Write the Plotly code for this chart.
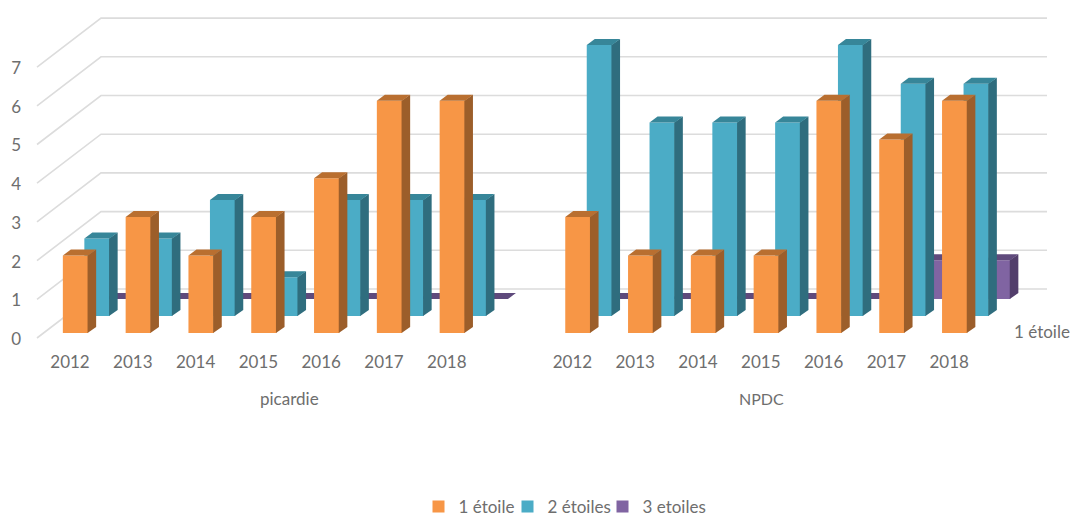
import plotly.graph_objects as go

years = ["2012", "2013", "2014", "2015", "2016", "2017", "2018"]
groups = ["picardie", "NPDC"]
picardie_1 = [2, 3, 2, 3, 4, 6, 6]
picardie_2 = [2, 2, 3, 1, 3, 3, 3]
picardie_3 = [0, 0, 0, 0, 0, 0, 0]
npdc_1 = [3, 2, 2, 2, 6, 5, 6]
npdc_2 = [7, 5, 5, 5, 7, 6, 6]
npdc_3 = [0, 0, 0, 0, 0, 1, 1]
names = ["1 étoile", "2 étoiles", "3 etoiles"]
ticks = [0, 1, 2, 3, 4, 5, 6, 7]

W, H, ML = 1071, 516, 22
STEP, UNIT = 62.8, 38.7     # px per category / per value
X0 = 75.5                   # centre of the first front bar
BAR = 25.3 / STEP
DX, DV = 8 / STEP, 6 / UNIT  # bar depth
SEAM = 0.6 / STEP           # side faces tuck slightly behind the front face
GREY = "#6E6E6E"
FONT = "Lato"

positions = list(range(7)) + [i + 8 for i in range(7)]
labels = years + years


def xrange(shift):
    c = X0 + shift
    return [(ML - c) / STEP, (W - c) / STEP]


def yrange(base):
    return [(base - H) / UNIT, base / UNIT]


series = [
    dict(name=names[2], vals=picardie_3 + npdc_3, dx=43, base=299, legend="legend3", lx=602.5,
         front="#8064A2", side="#523E6B", top="#5F4A7C", ax="3"),
    dict(name=names[1], vals=picardie_2 + npdc_2, dx=21.5, base=316, legend="legend2", lx=507.5,
         front="#4BACC6", side="#2F6D7E", top="#378699", ax="4"),
    dict(name=names[0], vals=picardie_1 + npdc_1, dx=0, base=333, legend="legend", lx=418.5,
         front="#F79646", side="#9C5E2A", top="#B96F30", ax="5"),
]

fig = go.Figure()

# wall gridlines: front edge -> back edge -> right end
gx, gy = [], []
front_left = (37 - X0) / STEP
back_left = (101 - X0) / STEP
back_right = (1047 - X0) / STEP
for v in ticks:
    gx += [front_left, back_left, back_right, None]
    gy += [v + 1 / UNIT, v + 50 / UNIT, v + 50 / UNIT, None]
fig.add_trace(go.Scatter(x=gx, y=gy, mode="lines", showlegend=False, hoverinfo="skip",
                         line=dict(color="#DCDCDC", width=1.6), xaxis="x", yaxis="y"))

for s in series:
    xa, ya = "x" + s["ax"], "y" + s["ax"]
    sx, sy, tx, ty = [], [], [], []
    for p, v in zip(positions, s["vals"]):
        l, r = p - BAR / 2, p + BAR / 2
        sx += [r - SEAM, r + DX, r + DX, r - SEAM, r - SEAM, None]
        sy += [0, DV, v + DV, v, 0, None]
        tx += [l, r, r + DX, l + DX, l, None]
        ty += [v, v, v + DV, v + DV, v, None]
    fig.add_trace(go.Scatter(x=sx, y=sy, mode="lines", fill="toself", fillcolor=s["side"],
                             line=dict(width=0), showlegend=False, hoverinfo="skip",
                             xaxis=xa, yaxis=ya))
    fig.add_trace(go.Scatter(x=tx, y=ty, mode="lines", fill="toself", fillcolor=s["top"],
                             line=dict(width=0), showlegend=False, hoverinfo="skip",
                             xaxis=xa, yaxis=ya))
    fig.add_trace(go.Bar(x=positions, y=s["vals"], width=BAR, name=s["name"],
                         marker=dict(color=s["front"], line=dict(width=0)),
                         xaxis=xa, yaxis=ya, showlegend=False))

# legend entries
for s in reversed(series):
    fig.add_trace(go.Bar(x=[None], y=[None], name=s["name"], legend=s["legend"], showlegend=True,
                         marker=dict(color=s["front"], line=dict(width=0)),
                         xaxis="x", yaxis="y"))

hidden = dict(visible=False, fixedrange=True)
layout = dict(
    width=W, height=H, margin=dict(l=ML, r=0, t=0, b=0, autoexpand=False),
    paper_bgcolor="white", plot_bgcolor="rgba(0,0,0,0)",
    font=dict(family=FONT, size=17, color=GREY),
    barmode="overlay", hovermode=False,
    xaxis=dict(range=xrange(0), anchor="free", position=(H - 350) / H,
               tickmode="array", tickvals=[p - 5.5 / STEP for p in positions], ticktext=labels,
               showgrid=False, zeroline=False, showline=False, ticks="", fixedrange=True,
               tickfont=dict(family=FONT, size=17, color=GREY)),
    yaxis=dict(range=yrange(339), tickmode="array", tickvals=ticks, ticktext=[str(t) for t in ticks],
               showgrid=False, zeroline=False, showline=False, ticks="", fixedrange=True,
               tickfont=dict(family=FONT, size=17, color=GREY)),
    annotations=[
        dict(text=groups[0], x=(289 - X0) / STEP, y=(H - 398) / H, xref="x", yref="paper", showarrow=False,
             yanchor="middle", font=dict(family=FONT, size=17, color=GREY)),
        dict(text=groups[1], x=(761 - X0) / STEP, y=(H - 398) / H, xref="x", yref="paper", showarrow=False,
             yanchor="middle", font=dict(family=FONT, size=16, color=GREY)),
        dict(text=names[0], x=(1042 - X0) / STEP, y=(H - 331) / H, xref="x", yref="paper",
             showarrow=False, yanchor="middle", font=dict(family=FONT, size=17, color=GREY)),
    ],
)
for s in series:
    layout[s["legend"]] = dict(orientation="h", x=(s["lx"] - ML) / (W - ML), y=(H - 507) / H,
                               xanchor="left", yanchor="middle", bgcolor="rgba(0,0,0,0)",
                               font=dict(family=FONT, size=17, color=GREY), itemwidth=30)
    layout["xaxis" + s["ax"]] = dict(range=xrange(s["dx"]), overlaying="x", **hidden)
    layout["yaxis" + s["ax"]] = dict(range=yrange(s["base"]), overlaying="y", **hidden)
fig.update_layout(**layout)

fig.write_html("out.html", config=dict(displayModeBar=False),
               post_script="document.body.style.margin='0';document.documentElement.style.overflow='hidden';")
